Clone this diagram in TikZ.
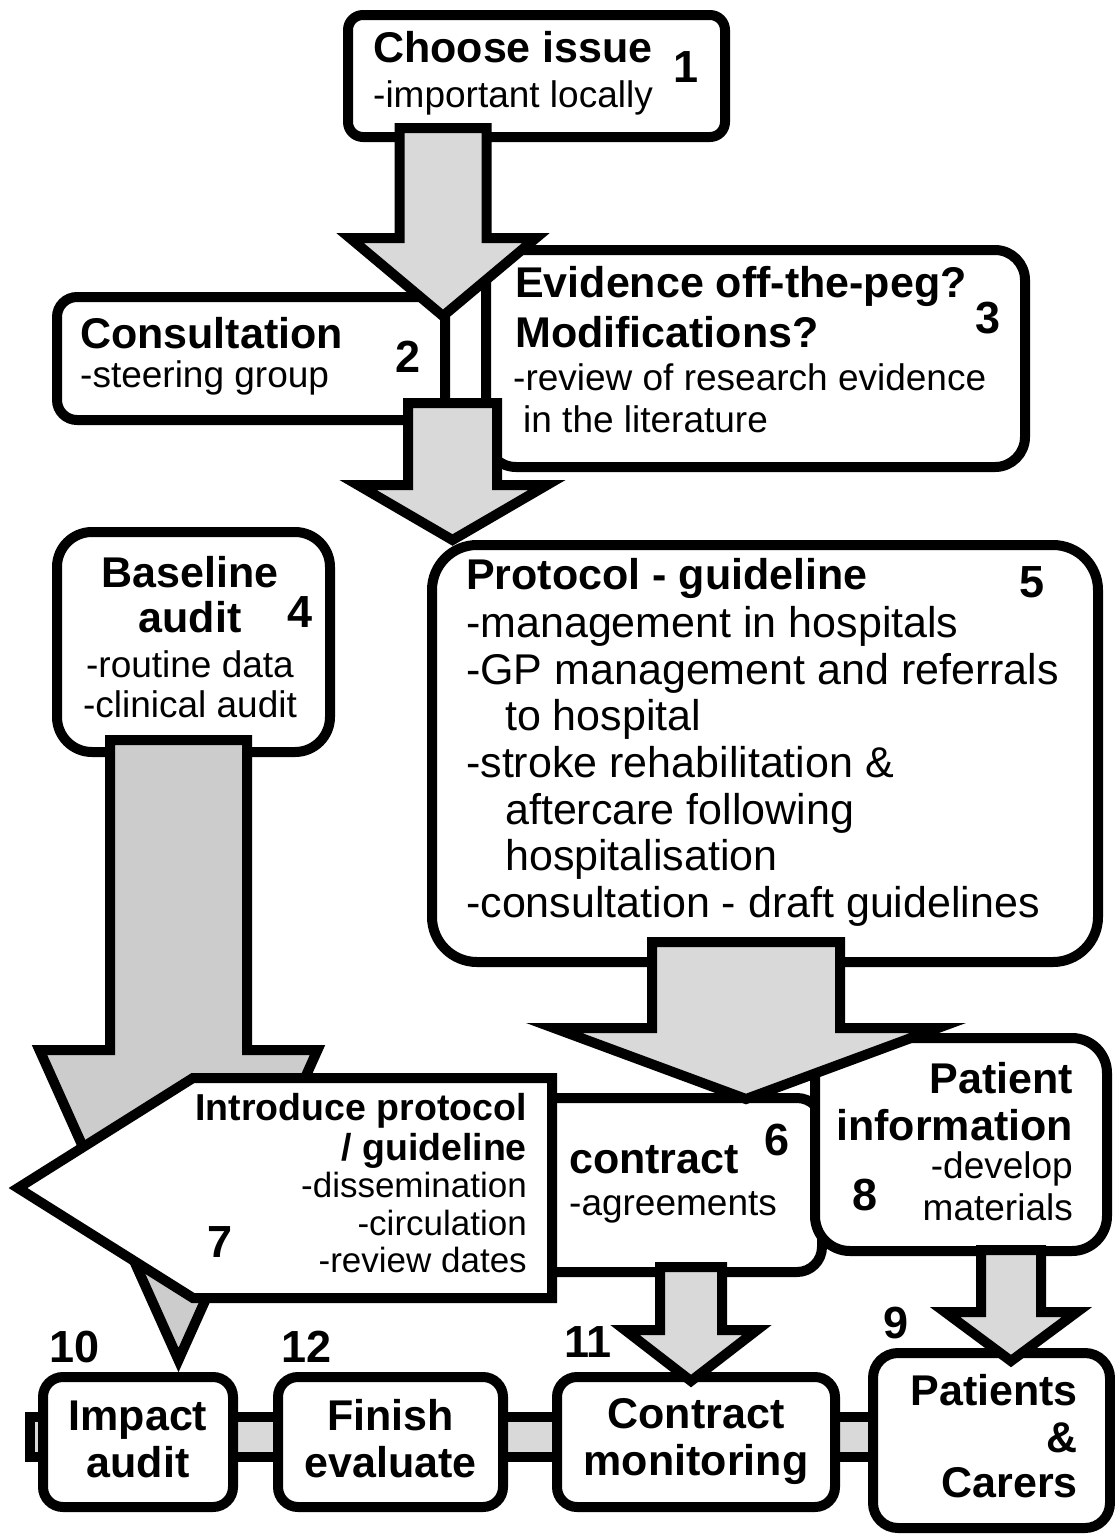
\documentclass[tikz,border=0pt]{standalone}
\usepackage{fontspec}
\setmainfont{Liberation Sans}
\newcommand{\blockarrow}[7][gray!30]{%
  \filldraw[arrowline, fill=#1] ({#2-#5},#3) -- ({#2+#5},#3) -- ({#2+#5},#4) -- ({#2+#6},#4)
    -- (#2,#7) -- ({#2-#6},#4) -- ({#2-#5},#4) -- cycle;}
\tikzset{
  box/.style={draw, line width=10pt, rounded corners=#1, fill=white, inner sep=0pt},
  box/.default=20pt,
  arrowline/.style={draw, line width=10pt, miter limit=20},
  bar/.style={draw, line width=10pt, fill=gray!30},
  head/.style={font=\fontsize{43}{47}\selectfont\bfseries, inner sep=0pt},
  body/.style={font=\fontsize{37}{41}\selectfont, inner sep=0pt},
  big/.style={font=\fontsize{43}{47}\selectfont},
  headsm/.style={font=\fontsize{37.5}{41}\selectfont\bfseries, inner sep=0pt},
  bodysm/.style={font=\fontsize{35}{39}\selectfont, inner sep=0pt},
  num/.style={font=\fontsize{45}{50}\selectfont\bfseries, inner sep=0pt, anchor=base}
}
\begin{document}
\begin{tikzpicture}[x=1pt, y=-1pt]
\useasboundingbox (0,0) rectangle (1115,1534);
% bottom row
\coordinate (barstart) at (30,1417);
\coordinate (barend) at (880,1457);
\draw[bar] (barstart) rectangle (barend);
\node[box, minimum width=190pt, minimum height=130pt] (impact) at (138,1442) {};
\node[box, minimum width=225pt, minimum height=130pt] (finish) at (390.5,1442) {};
\node[box, minimum width=278pt, minimum height=130pt] (monitor) at (696,1442) {};
\node[box=25pt, minimum width=237pt, minimum height=175pt] (carers) at (991.5,1440.5) {};
% upper boxes
\node[box=15pt, minimum width=377pt, minimum height=122pt] (issue) at (536.5,76) {};
\node[box=20pt, minimum width=388pt, minimum height=123pt] (consult) at (251,358.5) {};
\node[box=30pt, minimum width=539pt, minimum height=217pt] (evidence) at (755.5,358.5) {};
\node[box=35pt, minimum width=273pt, minimum height=220pt] (baseline) at (193.5,642) {};
\node[box=45pt, minimum width=666pt, minimum height=417pt] (protocol) at (765,753.5) {};
\blockarrow{443}{128}{238}{43.5}{93}{316}
\blockarrow{452.5}{403}{485}{44.5}{94.5}{540}
\blockarrow[gray!40]{178.5}{740}{1050}{68.5}{139}{1360}
% middle boxes
\node[box=25pt, minimum width=292pt, minimum height=174pt] (contract) at (676,1185) {};
\filldraw[draw, line width=10pt, fill=white] (552,1078) -- (193,1078) -- (18,1188)
  -- (193,1298) -- (552,1298) -- cycle;
\node[box=35pt, minimum width=292pt, minimum height=213pt] (patinfo) at (961,1144.5) {};
\blockarrow{746}{942}{1028}{94}{192}{1099}
\blockarrow{691}{1267}{1330}{31}{66}{1381}
\blockarrow{1011}{1250}{1312}{30}{66}{1361}
% texts
\node[head, anchor=base west] (issue-1) at (373,62) {Choose issue};
\node[body, anchor=base west] (issue-2) at (373,107) {-important locally};
\node[num] (n1) at (686,82) {1};
\node[head, anchor=base west] (consult-1) at (80,348) {Consultation};
\node[body, anchor=base west] (consult-2) at (80,387) {-steering group};
\node[num] (n2) at (408,372) {2};
\node[head, anchor=base west] (evidence-1) at (515,297) {Evidence off-the-peg?};
\node[head, anchor=base west] (evidence-2) at (515,347) {Modifications?};
\node[body, anchor=base west] (evidence-3) at (513,390) {-review of research evidence};
\node[body, anchor=base west] (evidence-4) at (523,432) {in the literature};
\node[num] (n3) at (988,333) {3};
\node[head, anchor=base] (baseline-1) at (190,587) {Baseline};
\node[head, anchor=base] (baseline-2) at (190,632) {audit};
\node[body, anchor=base] (baseline-3) at (190,677) {-routine data};
\node[body, anchor=base] (baseline-4) at (190,717) {-clinical audit};
\node[num] (n4) at (300,627) {4};
\node[head, anchor=base west] (protocol-0) at (466,589) {Protocol - guideline};
\foreach \x/\txt [count=\i] in {466/-management in hospitals, 466/-GP management and referrals,
  505/to hospital, 466/-stroke rehabilitation \&, 505/aftercare following, 505/hospitalisation,
  466/-consultation - draft guidelines}
  \node[body, big, anchor=base west] (protocol-\i) at (\x,{591+46.6*\i}) {\txt};
\node[num] (n5) at (1032,597) {5};
\node[head, anchor=base west] (contract-1) at (569,1173) {contract};
\node[body, anchor=base west] (contract-2) at (569,1215) {-agreements};
\node[num] (n6) at (777,1155) {6};
\node[headsm, anchor=base east] (intro-1) at (527,1120) {Introduce protocol};
\node[headsm, anchor=base east] (intro-2) at (527,1160) {/ guideline};
\node[bodysm, anchor=base east] (intro-3) at (527,1197) {-dissemination};
\node[bodysm, anchor=base east] (intro-4) at (527,1235) {-circulation};
\node[bodysm, anchor=base east] (intro-5) at (527,1272) {-review dates};
\node[num] (n7) at (220,1257) {7};
\node[head, anchor=base east] (patinfo-1) at (1073,1093) {Patient};
\node[head, anchor=base east] (patinfo-2) at (1073,1140) {information};
\node[body, anchor=base east] (patinfo-3) at (1073,1178) {-develop};
\node[body, anchor=base east] (patinfo-4) at (1073,1220) {materials};
\node[num] (n8) at (865,1210) {8};
\node[head, anchor=base east] (carers-1) at (1078,1405) {Patients};
\node[head, anchor=base east] (carers-2) at (1078,1452) {\&};
\node[head, anchor=base east] (carers-3) at (1078,1497) {Carers};
\node[num] (n9) at (896,1338) {9};
\node[head, anchor=base] (impact-1) at (138,1430) {Impact};
\node[head, anchor=base] (impact-2) at (138,1477) {audit};
\node[num] (n10) at (75,1362) {10};
\node[head, anchor=base] (monitor-1) at (696,1428) {Contract};
\node[head, anchor=base] (monitor-2) at (696,1475) {monitoring};
\node[num] (n11) at (588,1357) {11};
\node[head, anchor=base] (finish-1) at (390.5,1430) {Finish};
\node[head, anchor=base] (finish-2) at (390.5,1477) {evaluate};
\node[num] (n12) at (307,1362) {12};
\end{tikzpicture}
\end{document}
